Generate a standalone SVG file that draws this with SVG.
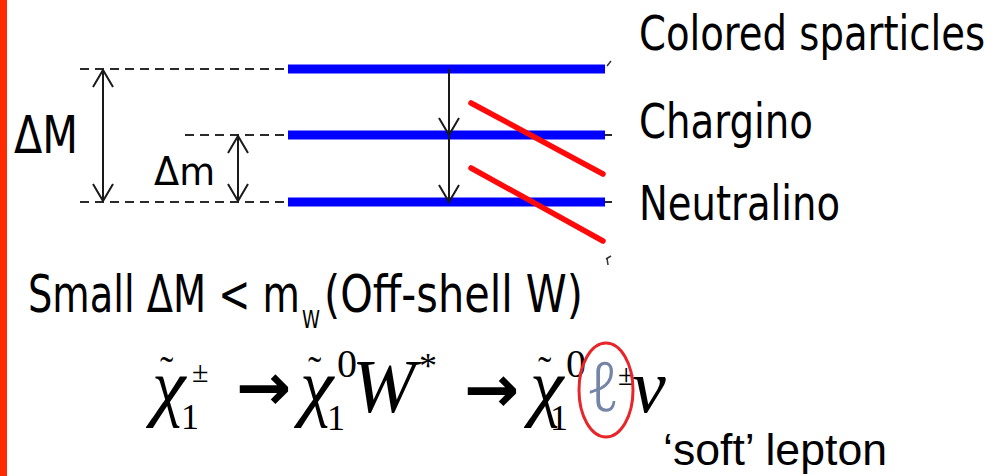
<svg xmlns="http://www.w3.org/2000/svg" width="1003" height="476" viewBox="0 0 1003 476">
  <style>
    .dash { stroke: #2a2a2a; stroke-width: 2; stroke-dasharray: 9 6; fill: none; }
    .level { stroke: #0000ff; stroke-width: 9; fill: none; }
    .cross { stroke: #ff0a0a; stroke-width: 5.5; stroke-linecap: round; fill: none; }
    .arrow { stroke: #1a1a1a; stroke-width: 2; fill: none; }
    .lbl { font-family: "DejaVu Sans", "Liberation Sans", sans-serif; fill: #000; }
    .sans { font-family: "Liberation Sans", Arial, sans-serif; fill: #000; }
    .math { font-family: "Liberation Serif", "Times New Roman", serif; fill: #000; }
    .it { font-style: italic; }
    .op { font-family: "DejaVu Sans", sans-serif; font-weight: bold; }
    .ell { font-family: "Noto Sans", "DejaVu Serif", serif; font-weight: 300; font-style: italic; fill: #7585a8; }
    .tick { stroke: #333; stroke-width: 1.5; fill: none; }
  </style>
  <defs>
    <marker id="vhead" markerUnits="userSpaceOnUse" markerWidth="22" markerHeight="24" refX="18" refY="12" orient="auto-start-reverse">
      <path d="M1,2 L18,12 L1,22" stroke="#1a1a1a" stroke-width="2" fill="none"/>
    </marker>
  </defs>

  <rect width="1003" height="476" fill="#ffffff"/>
  <!-- left accent bar -->
  <rect x="0" y="0" width="7" height="476" fill="#ff2a00"/>

  <!-- reference dashed lines -->
  <g id="guides">
    <line class="dash" x1="80" y1="69" x2="290" y2="69"/>
    <line class="dash" x1="185" y1="135" x2="612" y2="135"/>
    <line class="dash" x1="80" y1="202" x2="612" y2="202"/>
  </g>

  <!-- energy levels -->
  <g id="level-colored">
    <line class="level" x1="288" y1="69" x2="605" y2="69"/>
    <line class="tick" x1="607" y1="66" x2="611" y2="61"/>
    <text class="lbl" x="639" y="50" font-size="48" textLength="346" lengthAdjust="spacingAndGlyphs">Colored sparticles</text>
  </g>
  <g id="level-chargino">
    <line class="level" x1="288" y1="135" x2="605" y2="135"/>
    <text class="lbl" x="639" y="138" font-size="48" textLength="174" lengthAdjust="spacingAndGlyphs">Chargino</text>
  </g>
  <g id="level-neutralino">
    <line class="level" x1="288" y1="202" x2="605" y2="202"/>
    <text class="lbl" x="639" y="220" font-size="48" textLength="201" lengthAdjust="spacingAndGlyphs">Neutralino</text>
  </g>

  <!-- mass gap labels -->
  <g id="label-dM">
    <text class="lbl" x="14" y="153" font-size="52" textLength="64" lengthAdjust="spacingAndGlyphs">ΔM</text>
  </g>
  <g id="label-dm">
    <text class="lbl" x="154" y="185" font-size="39" textLength="61" lengthAdjust="spacingAndGlyphs">Δm</text>
  </g>

  <!-- connectors -->
  <g id="connectors">
    <line class="arrow" x1="103" y1="70" x2="103" y2="201" marker-start="url(#vhead)" marker-end="url(#vhead)"/>
    <line class="arrow" x1="238" y1="136" x2="238" y2="201" marker-start="url(#vhead)" marker-end="url(#vhead)"/>
    <line class="arrow" x1="449" y1="69" x2="449" y2="135" marker-end="url(#vhead)"/>
    <line class="arrow" x1="449" y1="135" x2="449" y2="202" marker-end="url(#vhead)"/>
    <line class="cross" x1="471" y1="103" x2="603" y2="174"/>
    <line class="cross" x1="471" y1="168" x2="603" y2="241"/>
    <line class="tick" x1="606" y1="259" x2="611" y2="256"/>
  </g>

  <!-- condition line -->
  <g id="condition">
    <text class="lbl" font-size="51"><tspan x="28" y="312" textLength="272" lengthAdjust="spacingAndGlyphs">Small ΔM &lt; m</tspan><tspan x="302" y="328" font-size="24" textLength="18" lengthAdjust="spacingAndGlyphs">W</tspan><tspan x="324" y="312" textLength="259" lengthAdjust="spacingAndGlyphs">(Off-shell W)</tspan></text>
    <line class="tick" x1="607" y1="258" x2="608" y2="265"/>
  </g>

  <!-- decay chain: chi~1(+-) -> chi~1(0) W* -> chi~1(0) l(+-) nu -->
  <g id="decay">
    <text class="math"><tspan class="it" x="152" y="412" font-size="76">χ</tspan><tspan x="160" y="384" font-size="40">˜</tspan><tspan x="181" y="429" font-size="36">1</tspan><tspan x="192" y="382" font-size="30">±</tspan></text>

    <text class="op" x="236" y="410" font-size="66">→</text>

    <text class="math"><tspan class="it" x="300" y="412" font-size="76">χ</tspan><tspan x="308" y="384" font-size="40">˜</tspan><tspan x="327" y="430" font-size="36">1</tspan><tspan x="337" y="377" font-size="40">0</tspan><tspan class="it" x="352" y="412" font-size="76">W</tspan><tspan x="419" y="378" font-size="36">*</tspan></text>

    <text class="op" x="464" y="412" font-size="66">→</text>

    <text class="math"><tspan class="it" x="530" y="412" font-size="76">χ</tspan><tspan x="538" y="384" font-size="40">˜</tspan><tspan x="550" y="430" font-size="36">1</tspan><tspan x="566" y="377" font-size="40">0</tspan><tspan x="618" y="385" font-size="30">±</tspan><tspan class="it" x="632" y="412" font-size="76">ν</tspan></text>
    <text class="ell" x="586" y="411" font-size="68">ℓ</text>
  </g>
  <g id="lepton-mark">
    <ellipse cx="606" cy="390" rx="27" ry="47" fill="none" stroke="#e8262a" stroke-width="3"/>
    <text class="sans" x="663" y="465" font-size="44" textLength="224" lengthAdjust="spacingAndGlyphs">‘soft’ lepton</text>
  </g>
</svg>
